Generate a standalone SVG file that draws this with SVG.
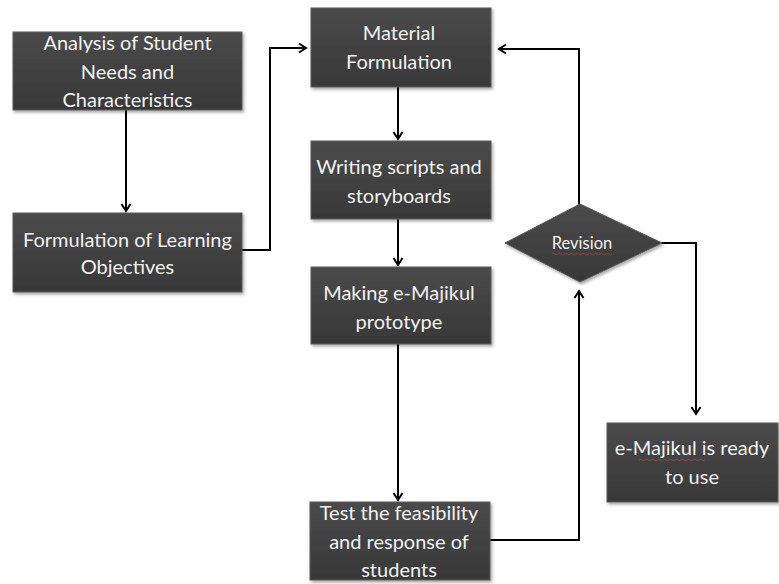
<svg xmlns="http://www.w3.org/2000/svg" width="779" height="584" viewBox="0 0 779 584">
<defs>
<linearGradient id="g" x1="0" y1="0" x2="0" y2="1">
<stop offset="0" stop-color="#4a4a4a"/>
<stop offset="1" stop-color="#383838"/>
</linearGradient>
<filter id="sh" x="-10%" y="-10%" width="125%" height="130%">
<feDropShadow dx="1.5" dy="2" stdDeviation="1.5" flood-color="#000" flood-opacity="0.35"/>
</filter>
<marker id="ah" markerWidth="12" markerHeight="12" refX="10" refY="6" orient="auto" markerUnits="userSpaceOnUse">
<path d="M3,1.5 L10,6 L3,10.5" fill="none" stroke="#000" stroke-width="2"/>
</marker>
<style>
.box{fill:url(#g);stroke:#5a5a5a;stroke-width:1;filter:url(#sh)}
.t{font-family:Lato,"Liberation Sans",sans-serif;font-size:20px;fill:#f2f2f2;text-anchor:middle}
.rv{font-family:Lato,"Liberation Sans",sans-serif;font-size:16.5px;fill:#f2f2f2;text-anchor:middle}
.c{fill:none;stroke:#000;stroke-width:2}
.sq{fill:none;stroke:#c05050;stroke-width:0.8;opacity:0.7}
</style>
</defs>
<rect width="779" height="584" fill="#fff"/>
<g id="connectors">
<path class="c" d="M126,110 V211" marker-end="url(#ah)"/>
<path class="c" d="M242,250 H270 V48 H306" marker-end="url(#ah)"/>
<path class="c" d="M398,87 V139" marker-end="url(#ah)"/>
<path class="c" d="M398,219 V265" marker-end="url(#ah)"/>
<path class="c" d="M398,344 V500" marker-end="url(#ah)"/>
<path class="c" d="M490,540 H579 V291" marker-end="url(#ah)"/>
<path class="c" d="M579,205 V49 H499" marker-end="url(#ah)"/>
<path class="c" d="M661,243 H696 V414" marker-end="url(#ah)"/>
</g>
<g id="n1"><rect class="box" x="13" y="32" width="229" height="78"/>
<text class="t" x="127.5" y="50">Analysis of Student</text>
<text class="t" x="127.5" y="79">Needs and</text>
<text class="t" x="127.5" y="107">Characteristics</text></g>
<g id="n2"><rect class="box" x="13" y="213" width="229" height="79"/>
<text class="t" x="127.5" y="247">Formulation of Learning</text>
<text class="t" x="127.5" y="274">Objectives</text></g>
<g id="n3"><rect class="box" x="311" y="8" width="180" height="79"/>
<text class="t" x="399" y="40">Material</text>
<text class="t" x="399" y="69">Formulation</text></g>
<g id="n4"><rect class="box" x="311" y="141" width="180" height="78"/>
<text class="t" x="399" y="174">Writing scripts and</text>
<text class="t" x="399" y="203">storyboards</text></g>
<g id="n5"><rect class="box" x="311" y="267" width="180" height="77"/>
<text class="t" x="399" y="300">Making e-Majikul</text>
<text class="t" x="399" y="329">prototype</text></g>
<g id="n6"><rect class="box" x="310" y="502" width="180" height="78"/>
<text class="t" x="399" y="520">Test the feasibility</text>
<text class="t" x="399" y="549">and response of</text>
<text class="t" x="399" y="577">students</text></g>
<g id="n7"><path class="box" d="M505,243 L580,204 L662,243 L580,282 Z"/>
<text class="rv" x="582" y="249">Revision</text>
<path class="sq" d="M552,254 q1.5,-1.5 3,0 t3,0 t3,0 t3,0 t3,0 t3,0 t3,0 t3,0 t3,0 t3,0 t3,0 t3,0 t3,0 t3,0 t3,0 t3,0 t3,0 t3,0 t3,0 t3,0"/></g>
<g id="n8"><rect class="box" x="607" y="423" width="171" height="79"/>
<text class="t" x="692" y="455">e-Majikul is ready</text>
<text class="t" x="692" y="484">to use</text>
<path class="sq" d="M639,460 q1.5,-1.5 3,0 t3,0 t3,0 t3,0 t3,0 t3,0 t3,0 t3,0 t3,0 t3,0 t3,0 t3,0 t3,0 t3,0 t3,0 t3,0 t3,0 t3,0 t3,0 t3,0 t3,0 t3,0"/></g>
</svg>
